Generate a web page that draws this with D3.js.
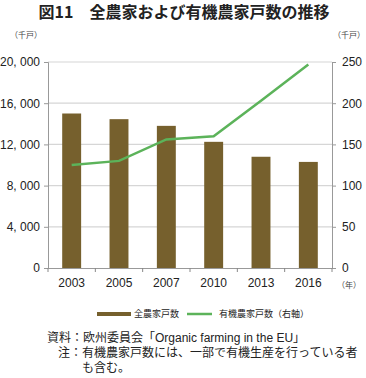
<!DOCTYPE html>
<html>
<head>
<meta charset="utf-8">
<script src="https://cdn.jsdelivr.net/npm/d3@7"></script>
<style>
  body { margin:0; background:#fff; }
  svg { display:block; font-family:"Noto Sans CJK JP","Noto Sans",sans-serif; }
</style>
</head>
<body>
<div id="chart"></div>
<script>
// data
var years = ["2003","2005","2007","2010","2013","2016"];
var allFarms = [15000, 14450, 13800, 12250, 10800, 10300];   // 千戸 (left)
var organicFarms = [125, 130, 156, 160, 203, 247];          // 千戸 (right)
var leftTicks = [0, 4000, 8000, 12000, 16000, 20000];
var rightTicks = [0, 50, 100, 150, 200, 250];

var W = 366, H = 378;
var m = {left:48, right:34, top:62, bottom:110};
var pw = W - m.left - m.right, ph = H - m.top - m.bottom;

var svg = d3.select("#chart").append("svg").attr("width",W).attr("height",H);

var x = d3.scaleBand().domain(years).range([m.left, m.left+pw]).paddingInner(0.6).paddingOuter(0.3);
var yL = d3.scaleLinear().domain([0,20000]).range([m.top+ph, m.top]);
var yR = d3.scaleLinear().domain([0,250]).range([m.top+ph, m.top]);

var fmt = function(d){ return d3.format(",")(d).replace(",", ", "); };

// title
svg.append("text").attr("x",W/2 + 1).attr("y",18).attr("text-anchor","middle")
   .attr("font-size",16).attr("font-weight","bold").attr("fill","#222")
   .text("図11　全農家および有機農家戸数の推移");

// unit labels
svg.append("text").attr("x",26).attr("y",38).attr("text-anchor","middle")
   .attr("font-size",8).attr("fill","#444").text("（千戸）");
svg.append("text").attr("x",365).attr("y",38).attr("text-anchor","end")
   .attr("font-size",8).attr("fill","#444").text("（千戸）");

// gridlines
svg.append("g").selectAll("line").data(leftTicks.slice(1)).join("line")
   .attr("x1",m.left).attr("x2",m.left+pw)
   .attr("y1",function(d){return yL(d);}).attr("y2",function(d){return yL(d);})
   .attr("stroke","#d6d6d6").attr("stroke-width",1.2);

// bars
svg.append("g").selectAll("rect").data(allFarms).join("rect")
   .attr("x",function(d,i){return x(years[i]);})
   .attr("width",x.bandwidth())
   .attr("y",function(d){return yL(d);})
   .attr("height",function(d){return yL(0)-yL(d);})
   .attr("fill","#76602d");

// line
var line = d3.line()
   .x(function(d,i){return x(years[i]) + x.bandwidth()/2;})
   .y(function(d){return yR(d);});
svg.append("path").datum(organicFarms).attr("d",line)
   .attr("fill","none").attr("stroke","#5cb35a").attr("stroke-width",2.5);

// axes
var axL = svg.append("g").attr("transform","translate("+m.left+",0)")
   .call(d3.axisLeft(yL).tickValues(leftTicks).tickFormat(fmt).tickSize(4).tickPadding(4));
var axR = svg.append("g").attr("transform","translate("+(m.left+pw)+",0)")
   .call(d3.axisRight(yR).tickValues(rightTicks).tickSize(4).tickPadding(6));
var axB = svg.append("g").attr("transform","translate(0,"+(m.top+ph)+")")
   .call(d3.axisBottom(x).tickSize(0).tickPadding(10));

// category separators on the x axis
var sepX = function(i){
  if(i===0) return m.left;
  if(i===years.length) return m.left+pw;
  return (x(years[i-1]) + x(years[i]) + x.bandwidth())/2;
};
axB.selectAll(".sep").data(d3.range(years.length+1)).join("line").attr("class","sep")
   .attr("x1",sepX).attr("x2",sepX)
   .attr("y1",0).attr("y2",4).attr("stroke","#888");

[axL,axR,axB].forEach(function(a){
  a.select(".domain").attr("stroke","#999");
  a.selectAll(".tick line").attr("stroke","#999");
  a.selectAll("text").attr("font-size",12).attr("fill","#222")
   .attr("font-family","'Liberation Sans','DejaVu Sans',sans-serif");
});

svg.append("text").attr("x",349).attr("y",288).attr("text-anchor","middle")
   .attr("font-size",8).attr("fill","#444").text("（年）");

// legend
var lg = svg.append("g").attr("transform","translate(0,314)");
lg.append("rect").attr("x",97).attr("y",-2).attr("width",34).attr("height",4).attr("fill","#76602d");
lg.append("text").attr("x",134).attr("y",3).attr("font-size",9).attr("fill","#222").text("全農家戸数");
lg.append("line").attr("x1",187).attr("x2",212).attr("y1",0).attr("y2",0)
  .attr("stroke","#5cb35a").attr("stroke-width",2.5);
lg.append("text").attr("x",219).attr("y",3).attr("font-size",9).attr("fill","#222").text("有機農家戸数（右軸）");

// notes (Latin font first keeps the line boxes compact)
var notes = svg.append("g").attr("font-size",12).attr("fill","#222")
   .attr("font-family","'Liberation Sans','Noto Sans CJK JP',sans-serif");
var n1 = notes.append("text").attr("x",47).attr("y",342);
n1.append("tspan").text("資料：欧州委員会「Organic farming in the EU」");
notes.append("text").attr("x",58).attr("y",357).text("注：有機農家戸数には、一部で有機生産を行っている者");
notes.append("text").attr("x",82).attr("y",372).text("も含む。");
</script>
</body>
</html>
